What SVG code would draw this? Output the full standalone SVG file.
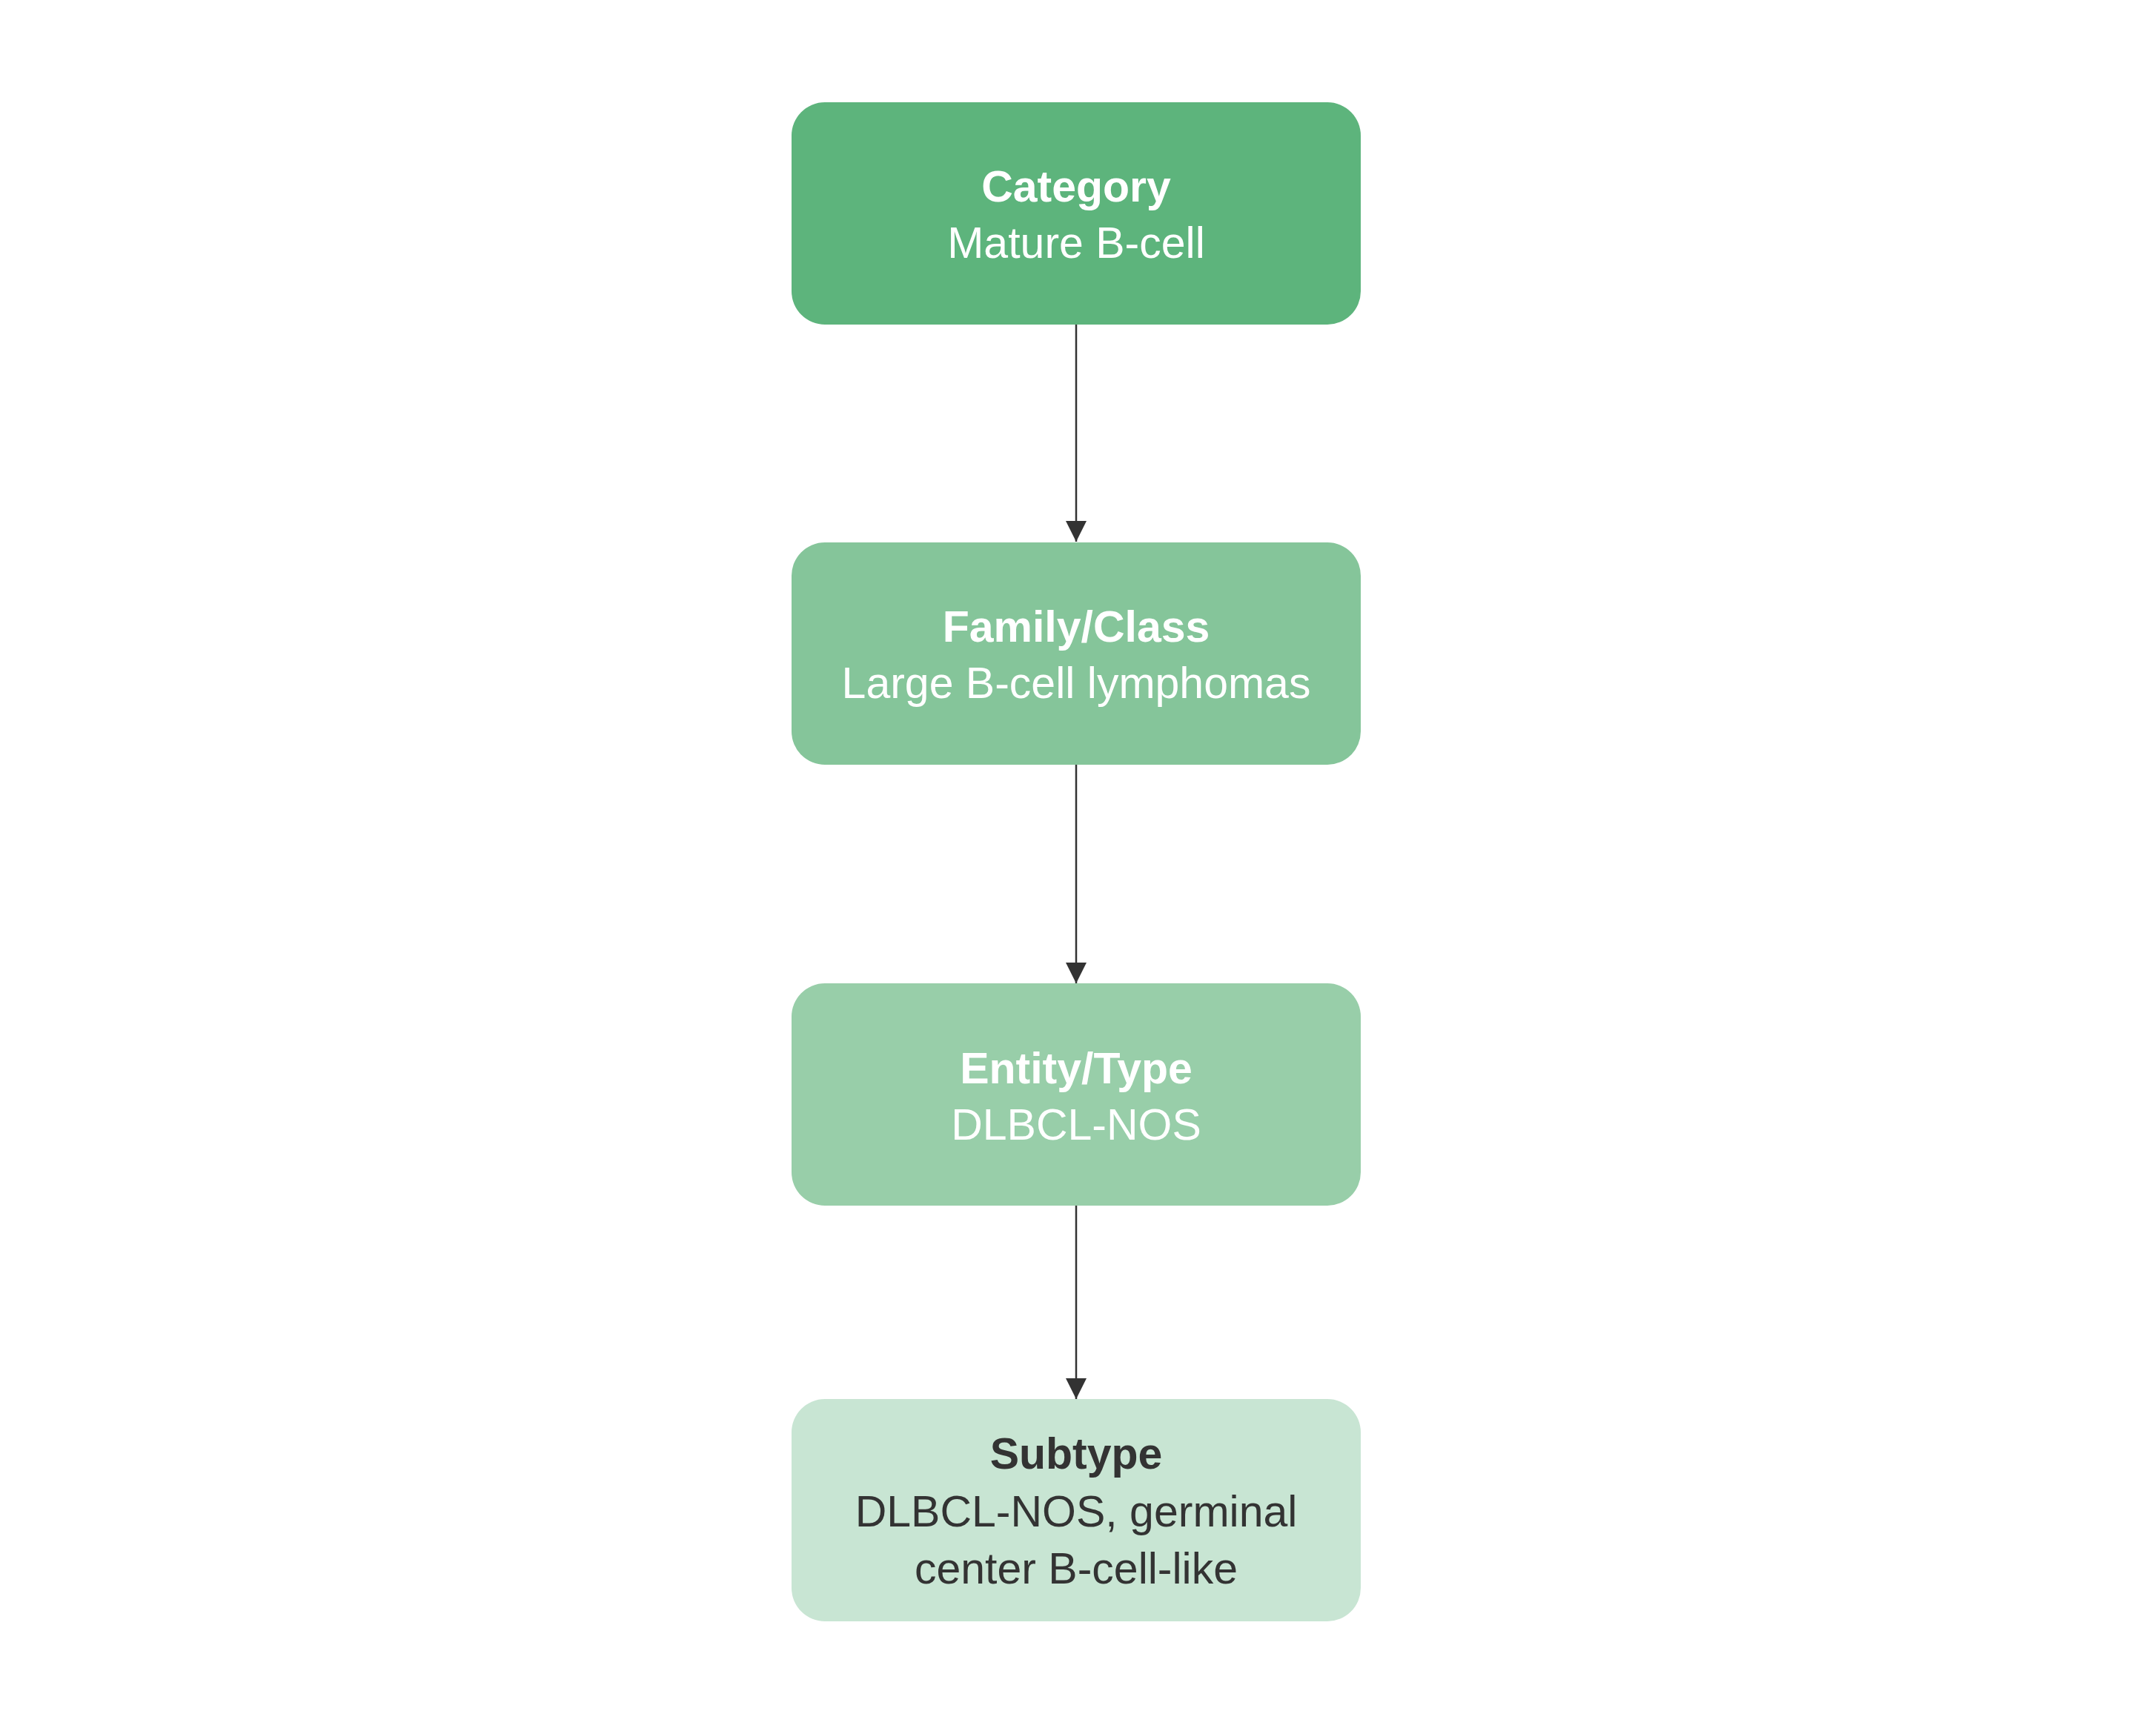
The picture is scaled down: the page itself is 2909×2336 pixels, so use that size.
<svg xmlns="http://www.w3.org/2000/svg" width="2909" height="2336" viewBox="0 0 2909 2336">
<style>
.box{stroke:none}
.t{font-family:"Liberation Sans",Arial,sans-serif;font-size:59px;text-anchor:middle}
.b{font-weight:bold}
.w{fill:#ffffff}
.d{fill:#333333}
.edge{stroke:#333333;stroke-width:2.5;fill:none}
</style>
<defs>
<marker id="ah" markerUnits="userSpaceOnUse" markerWidth="28" markerHeight="28" viewBox="0 0 28 28" refX="28" refY="14" orient="auto">
<path d="M0,0 L28,14 L0,28 Z" fill="#333333"/>
</marker>
</defs>
<rect width="2909" height="2336" fill="#ffffff"/>
<g id="connectors">
<line class="edge" x1="1452" y1="438" x2="1452" y2="731" marker-end="url(#ah)"/>
<line class="edge" x1="1452" y1="1032" x2="1452" y2="1327" marker-end="url(#ah)"/>
<line class="edge" x1="1452" y1="1627" x2="1452" y2="1888" marker-end="url(#ah)"/>
</g>
<g id="node-category">
<rect class="box" x="1068" y="138" width="768" height="300" rx="45" fill="#5db47c"/>
<text class="t b w" x="1452" y="272">Category</text>
<text class="t w" x="1452" y="348">Mature B-cell</text>
</g>
<g id="node-family">
<rect class="box" x="1068" y="732" width="768" height="300" rx="45" fill="#85c59a"/>
<text class="t b w" x="1452" y="866">Family/Class</text>
<text class="t w" x="1452" y="942">Large B-cell lymphomas</text>
</g>
<g id="node-entity">
<rect class="box" x="1068" y="1327" width="768" height="300" rx="45" fill="#98cea9"/>
<text class="t b w" x="1452" y="1462">Entity/Type</text>
<text class="t w" x="1452" y="1538">DLBCL-NOS</text>
</g>
<g id="node-subtype">
<rect class="box" x="1068" y="1888" width="768" height="300" rx="45" fill="#c8e5d3"/>
<text class="t b d" x="1452" y="1982">Subtype</text>
<text class="t d" x="1452" y="2060">DLBCL-NOS, germinal</text>
<text class="t d" x="1452" y="2137">center B-cell-like</text>
</g>
</svg>
